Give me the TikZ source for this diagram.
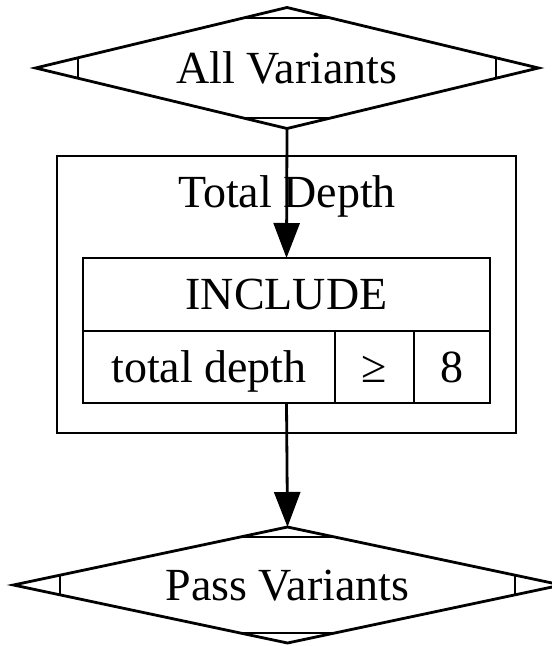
\documentclass[tikz,border=0pt]{standalone}
\usepackage{fontspec}
\setmainfont{Liberation Serif}
\usetikzlibrary{shapes.geometric,arrows.meta,calc}

\tikzset{
  every node/.style={font=\fontsize{46}{54}\selectfont, text height=37pt, text depth=7pt},
  line/.style={line width=2.8pt, draw=black},
  mdiamond/.style={line, diamond, aspect=4, inner sep=0pt, outer sep=0pt},
  boxcell/.style={line, rectangle, inner sep=0pt, outer sep=0pt},
  flow/.style={line, -{Triangle[length=35pt,width=26pt]}},
}

\begin{document}
\begin{tikzpicture}[x=1pt,y=-1pt]
  \useasboundingbox (0,0) rectangle (552,646);

  % source and sink diamonds
  \node[mdiamond, minimum width=503pt, minimum height=121pt] (all) at (287,68) {All Variants};
  \node[mdiamond, minimum width=548pt, minimum height=116pt] (pass) at (287.5,585) {Pass Variants};

  % corner marks of the Mdiamond shape
  \foreach \n in {all,pass} {
    \draw[line, line width=2.2pt] ($(\n.west)!0.17!(\n.north)$) -- ($(\n.west)!0.17!(\n.south)$);
    \draw[line, line width=2.2pt] ($(\n.east)!0.17!(\n.north)$) -- ($(\n.east)!0.17!(\n.south)$);
    \draw[line, line width=2.2pt] ($(\n.north)!0.17!(\n.west)$) -- ($(\n.north)!0.17!(\n.east)$);
    \draw[line, line width=2.2pt] ($(\n.south)!0.17!(\n.west)$) -- ($(\n.south)!0.17!(\n.east)$);
  }

  % cluster
  \node[boxcell, minimum width=459pt, minimum height=277pt] (cluster) at (286.5,294.5) {};
  \node (clabel) at (287,192) {Total Depth};

  % record
  \node[boxcell, minimum width=407pt, minimum height=145pt] (rec) at (286.5,330.5) {};
  \node[boxcell, minimum width=407pt, minimum height=73pt] (incl) at (286.5,294.5) {INCLUDE};
  \node[boxcell, minimum width=252pt, minimum height=72pt] (field) at (209,367) {total depth};
  \node[boxcell, minimum width=79pt, minimum height=72pt] (op) at (374.5,367) {≥};
  \node[boxcell, minimum width=76pt, minimum height=72pt] (val) at (452,367) {8};

  % connectors
  \draw[flow] (all.south) -- (rec.north);
  \draw[flow] (rec.south) -- (pass.north);
\end{tikzpicture}
\end{document}
